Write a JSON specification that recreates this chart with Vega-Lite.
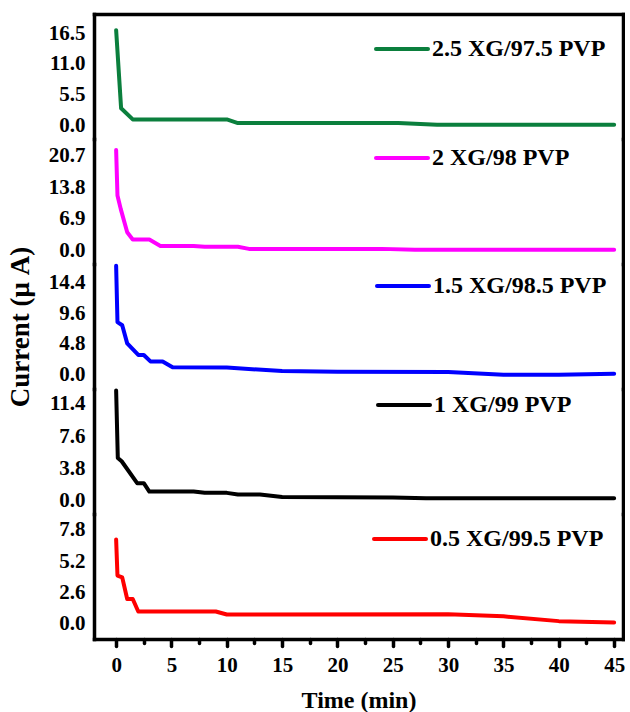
{
  "$schema": "https://vega.github.io/schema/vega-lite/v6.json",
  "padding": {"left": 6, "top": 14, "right": 0, "bottom": 0},
  "background": "white",
  "spacing": 0,
  "bounds": "flush",
  "config": {
    "view": {"stroke": null},
    "axis": {"domainColor": "black", "domainWidth": 3.5, "domainCap": "square", "labelFont": "Liberation Serif", "labelFontWeight": "bold", "labelFontSize": 21, "labelColor": "black", "titleFont": "Liberation Serif", "titleFontWeight": "bold", "titleColor": "black", "grid": false, "tickColor": "black", "tickWidth": 3.5, "tickCap": "round"}
  },
  "data": {"values": [
    {"series": "2.5 XG/97.5 PVP", "time": 0, "current": 17.0},
    {"series": "2.5 XG/97.5 PVP", "time": 0.45, "current": 3.0},
    {"series": "2.5 XG/97.5 PVP", "time": 1.5, "current": 1.0},
    {"series": "2.5 XG/97.5 PVP", "time": 10.0, "current": 1.0},
    {"series": "2.5 XG/97.5 PVP", "time": 11.0, "current": 0.35},
    {"series": "2.5 XG/97.5 PVP", "time": 25.5, "current": 0.35},
    {"series": "2.5 XG/97.5 PVP", "time": 29.0, "current": 0.05},
    {"series": "2.5 XG/97.5 PVP", "time": 45, "current": 0.05},
    {"series": "2 XG/98 PVP", "time": 0, "current": 22.0},
    {"series": "2 XG/98 PVP", "time": 0.12, "current": 12.0},
    {"series": "2 XG/98 PVP", "time": 0.42, "current": 9.0},
    {"series": "2 XG/98 PVP", "time": 1.0, "current": 3.9},
    {"series": "2 XG/98 PVP", "time": 1.5, "current": 2.3},
    {"series": "2 XG/98 PVP", "time": 3.0, "current": 2.3},
    {"series": "2 XG/98 PVP", "time": 4.0, "current": 0.9},
    {"series": "2 XG/98 PVP", "time": 7.0, "current": 0.9},
    {"series": "2 XG/98 PVP", "time": 8.0, "current": 0.7},
    {"series": "2 XG/98 PVP", "time": 11.0, "current": 0.7},
    {"series": "2 XG/98 PVP", "time": 12.0, "current": 0.25},
    {"series": "2 XG/98 PVP", "time": 24.0, "current": 0.25},
    {"series": "2 XG/98 PVP", "time": 27.0, "current": 0.05},
    {"series": "2 XG/98 PVP", "time": 45, "current": 0.05},
    {"series": "1.5 XG/98.5 PVP", "time": 0, "current": 16.9},
    {"series": "1.5 XG/98.5 PVP", "time": 0.12, "current": 8.2},
    {"series": "1.5 XG/98.5 PVP", "time": 0.55, "current": 7.7},
    {"series": "1.5 XG/98.5 PVP", "time": 1.0, "current": 4.9},
    {"series": "1.5 XG/98.5 PVP", "time": 2.0, "current": 3.1},
    {"series": "1.5 XG/98.5 PVP", "time": 2.5, "current": 3.1},
    {"series": "1.5 XG/98.5 PVP", "time": 3.1, "current": 2.1},
    {"series": "1.5 XG/98.5 PVP", "time": 4.2, "current": 2.1},
    {"series": "1.5 XG/98.5 PVP", "time": 5.1, "current": 1.2},
    {"series": "1.5 XG/98.5 PVP", "time": 10, "current": 1.15},
    {"series": "1.5 XG/98.5 PVP", "time": 15, "current": 0.6},
    {"series": "1.5 XG/98.5 PVP", "time": 20, "current": 0.5},
    {"series": "1.5 XG/98.5 PVP", "time": 30, "current": 0.45},
    {"series": "1.5 XG/98.5 PVP", "time": 35, "current": 0.05},
    {"series": "1.5 XG/98.5 PVP", "time": 40, "current": 0.05},
    {"series": "1.5 XG/98.5 PVP", "time": 45, "current": 0.2},
    {"series": "1 XG/99 PVP", "time": 0, "current": 13.0},
    {"series": "1 XG/99 PVP", "time": 0.15, "current": 5.0},
    {"series": "1 XG/99 PVP", "time": 0.5, "current": 4.6},
    {"series": "1 XG/99 PVP", "time": 1.9, "current": 2.0},
    {"series": "1 XG/99 PVP", "time": 2.5, "current": 2.0},
    {"series": "1 XG/99 PVP", "time": 3.0, "current": 1.0},
    {"series": "1 XG/99 PVP", "time": 7.0, "current": 1.0},
    {"series": "1 XG/99 PVP", "time": 8.0, "current": 0.85},
    {"series": "1 XG/99 PVP", "time": 10.0, "current": 0.85},
    {"series": "1 XG/99 PVP", "time": 11.0, "current": 0.65},
    {"series": "1 XG/99 PVP", "time": 13.0, "current": 0.65},
    {"series": "1 XG/99 PVP", "time": 15.0, "current": 0.35},
    {"series": "1 XG/99 PVP", "time": 25.0, "current": 0.3},
    {"series": "1 XG/99 PVP", "time": 28.0, "current": 0.22},
    {"series": "1 XG/99 PVP", "time": 45, "current": 0.22},
    {"series": "0.5 XG/99.5 PVP", "time": 0, "current": 7.0},
    {"series": "0.5 XG/99.5 PVP", "time": 0.12, "current": 4.0},
    {"series": "0.5 XG/99.5 PVP", "time": 0.55, "current": 3.85},
    {"series": "0.5 XG/99.5 PVP", "time": 1.0, "current": 2.05},
    {"series": "0.5 XG/99.5 PVP", "time": 1.5, "current": 2.05},
    {"series": "0.5 XG/99.5 PVP", "time": 2.0, "current": 1.0},
    {"series": "0.5 XG/99.5 PVP", "time": 9.0, "current": 1.0},
    {"series": "0.5 XG/99.5 PVP", "time": 10.0, "current": 0.75},
    {"series": "0.5 XG/99.5 PVP", "time": 30, "current": 0.78},
    {"series": "0.5 XG/99.5 PVP", "time": 35, "current": 0.6},
    {"series": "0.5 XG/99.5 PVP", "time": 40, "current": 0.2},
    {"series": "0.5 XG/99.5 PVP", "time": 45, "current": 0.08}
  ]},
  "resolve": {"scale": {"color": "independent", "y": "independent", "x": "independent"}, "legend": {"color": "independent"}},
  "vconcat": [
    {
      "transform": [{"filter": {"field": "series", "equal": "2.5 XG/97.5 PVP"}}],
      "width": 529, "height": 125,
      "resolve": {"axis": {"x": "independent", "y": "independent"}},
      "layer": [
        {"mark": {"type": "line", "strokeWidth": 4, "strokeJoin": "round", "strokeCap": "round"},
         "encoding": {
           "x": {"field": "time", "type": "quantitative", "scale": {"domain": [-2, 45.8], "nice": false}, "axis": {"orient": "top", "labels": false, "ticks": false, "title": null}},
           "y": {"field": "current", "type": "quantitative", "scale": {"domain": [-2.51, 19.91], "nice": false, "zero": false}, "axis": {"orient": "left", "values": [0, 5.5, 11, 16.5], "format": ".1f", "ticks": false, "labelPadding": 9, "title": null}},
           "color": {"field": "series", "type": "nominal", "scale": {"domain": ["2.5 XG/97.5 PVP"], "range": ["#0b7f3d"]},
             "legend": {"orient": "none", "legendX": 280, "legendY": 7, "title": null, "symbolType": "stroke", "symbolSize": 2704, "symbolStrokeWidth": 4, "labelFont": "Liberation Serif", "labelFontWeight": "bold", "labelFontSize": 24, "labelColor": "black", "labelOffset": 2, "labelLimit": 400, "encode": {"symbols": {"update": {"strokeCap": {"value": "round"}}}}}}
         }},
        {"mark": {"type": "line", "opacity": 0},
         "encoding": {
           "x": {"field": "time", "type": "quantitative", "axis": null},
           "y": {"field": "current", "type": "quantitative", "axis": {"orient": "right", "labels": false, "ticks": false, "title": null}}
         }}
      ]
    },
    {
      "transform": [{"filter": {"field": "series", "equal": "2 XG/98 PVP"}}],
      "width": 529, "height": 125,
      "resolve": {"axis": {"x": "independent", "y": "independent"}},
      "layer": [
        {"mark": {"type": "line", "strokeWidth": 4, "strokeJoin": "round", "strokeCap": "round"},
         "encoding": {
           "x": {"field": "time", "type": "quantitative", "scale": {"domain": [-2, 45.8], "nice": false}, "axis": null},
           "y": {"field": "current", "type": "quantitative", "scale": {"domain": [-3.08, 24.44], "nice": false, "zero": false}, "axis": {"orient": "left", "values": [0, 6.9, 13.8, 20.7], "format": ".1f", "ticks": false, "labelPadding": 9, "title": null}},
           "color": {"field": "series", "type": "nominal", "scale": {"domain": ["2 XG/98 PVP"], "range": ["#ff00ff"]},
             "legend": {"orient": "none", "legendX": 280, "legendY": -9, "title": null, "symbolType": "stroke", "symbolSize": 2704, "symbolStrokeWidth": 4, "labelFont": "Liberation Serif", "labelFontWeight": "bold", "labelFontSize": 24, "labelColor": "black", "labelOffset": 2, "labelLimit": 400, "encode": {"symbols": {"update": {"strokeCap": {"value": "round"}}}}}}
         }},
        {"mark": {"type": "line", "opacity": 0},
         "encoding": {
           "x": {"field": "time", "type": "quantitative", "axis": null},
           "y": {"field": "current", "type": "quantitative", "axis": {"orient": "right", "labels": false, "ticks": false, "title": null}}
         }}
      ]
    },
    {
      "transform": [{"filter": {"field": "series", "equal": "1.5 XG/98.5 PVP"}}],
      "width": 529, "height": 125,
      "resolve": {"axis": {"x": "independent", "y": "independent"}},
      "layer": [
        {"mark": {"type": "line", "strokeWidth": 4, "strokeJoin": "round", "strokeCap": "round"},
         "encoding": {
           "x": {"field": "time", "type": "quantitative", "scale": {"domain": [-2, 45.8], "nice": false}, "axis": null},
           "y": {"field": "current", "type": "quantitative", "scale": {"domain": [-2.17, 17.19], "nice": false, "zero": false}, "axis": {"orient": "left", "values": [0, 4.8, 9.6, 14.4], "format": ".1f", "ticks": false, "labelPadding": 9, "title": "Current (μ A)", "titleFontSize": 27, "titlePadding": 14}},
           "color": {"field": "series", "type": "nominal", "scale": {"domain": ["1.5 XG/98.5 PVP"], "range": ["#0000ff"]},
             "legend": {"orient": "none", "legendX": 281, "legendY": -6, "title": null, "symbolType": "stroke", "symbolSize": 2704, "symbolStrokeWidth": 4, "labelFont": "Liberation Serif", "labelFontWeight": "bold", "labelFontSize": 24, "labelColor": "black", "labelOffset": 2, "labelLimit": 400, "encode": {"symbols": {"update": {"strokeCap": {"value": "round"}}}}}}
         }},
        {"mark": {"type": "line", "opacity": 0},
         "encoding": {
           "x": {"field": "time", "type": "quantitative", "axis": null},
           "y": {"field": "current", "type": "quantitative", "axis": {"orient": "right", "labels": false, "ticks": false, "title": null}}
         }}
      ]
    },
    {
      "transform": [{"filter": {"field": "series", "equal": "1 XG/99 PVP"}}],
      "width": 529, "height": 125,
      "resolve": {"axis": {"x": "independent", "y": "independent"}},
      "layer": [
        {"mark": {"type": "line", "strokeWidth": 4, "strokeJoin": "round", "strokeCap": "round"},
         "encoding": {
           "x": {"field": "time", "type": "quantitative", "scale": {"domain": [-2, 45.8], "nice": false}, "axis": null},
           "y": {"field": "current", "type": "quantitative", "scale": {"domain": [-1.66, 13.18], "nice": false, "zero": false}, "axis": {"orient": "left", "values": [0, 3.8, 7.6, 11.4], "format": ".1f", "ticks": false, "labelPadding": 9, "title": null}},
           "color": {"field": "series", "type": "nominal", "scale": {"domain": ["1 XG/99 PVP"], "range": ["#000000"]},
             "legend": {"orient": "none", "legendX": 282, "legendY": -12, "title": null, "symbolType": "stroke", "symbolSize": 2704, "symbolStrokeWidth": 4, "labelFont": "Liberation Serif", "labelFontWeight": "bold", "labelFontSize": 24, "labelColor": "black", "labelOffset": 2, "labelLimit": 400, "encode": {"symbols": {"update": {"strokeCap": {"value": "round"}}}}}}
         }},
        {"mark": {"type": "line", "opacity": 0},
         "encoding": {
           "x": {"field": "time", "type": "quantitative", "axis": null},
           "y": {"field": "current", "type": "quantitative", "axis": {"orient": "right", "labels": false, "ticks": false, "title": null}}
         }}
      ]
    },
    {
      "transform": [{"filter": {"field": "series", "equal": "0.5 XG/99.5 PVP"}}],
      "width": 529, "height": 125,
      "resolve": {"axis": {"x": "independent", "y": "independent"}},
      "layer": [
        {"mark": {"type": "line", "strokeWidth": 4, "strokeJoin": "round", "strokeCap": "round"},
         "encoding": {
           "x": {"field": "time", "type": "quantitative", "scale": {"domain": [-2, 45.8], "nice": false}, "axis": {"orient": "bottom", "values": [0, 5, 10, 15, 20, 25, 30, 35, 40, 45], "tickSize": 7, "labelPadding": 8, "title": "Time (min)", "titleFontSize": 24, "titlePadding": 13}},
           "y": {"field": "current", "type": "quantitative", "scale": {"domain": [-1.29, 9.13], "nice": false, "zero": false}, "axis": {"orient": "left", "values": [0, 2.6, 5.2, 7.8], "format": ".1f", "ticks": false, "labelPadding": 9, "title": null}},
           "color": {"field": "series", "type": "nominal", "scale": {"domain": ["0.5 XG/99.5 PVP"], "range": ["#ff0000"]},
             "legend": {"orient": "none", "legendX": 278, "legendY": -3, "title": null, "symbolType": "stroke", "symbolSize": 2704, "symbolStrokeWidth": 4, "labelFont": "Liberation Serif", "labelFontWeight": "bold", "labelFontSize": 24, "labelColor": "black", "labelOffset": 2, "labelLimit": 400, "encode": {"symbols": {"update": {"strokeCap": {"value": "round"}, "stroke": {"value": "#ff00ff"}}}}}}
         }},
        {"mark": {"type": "line", "opacity": 0},
         "encoding": {
           "x": {"field": "time", "type": "quantitative", "axis": {"orient": "bottom", "values": [2.5, 7.5, 12.5, 17.5, 22.5, 27.5, 32.5, 37.5, 42.5], "tickSize": 4, "labels": false, "domain": false, "title": null}},
           "y": {"field": "current", "type": "quantitative", "axis": {"orient": "right", "labels": false, "ticks": false, "title": null}}
         }}
      ]
    }
  ]
}
